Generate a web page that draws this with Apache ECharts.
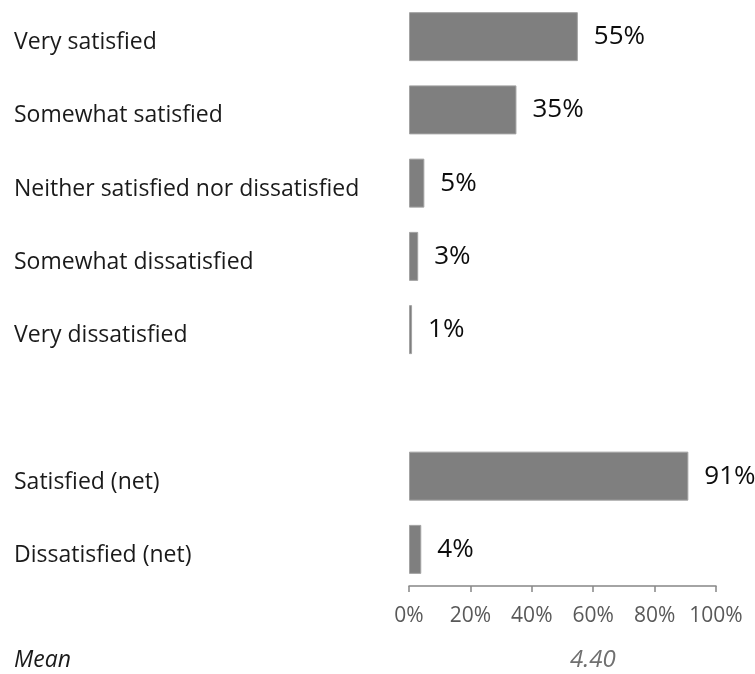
<!DOCTYPE html>
<html>
<head>
<meta charset="utf-8">
<script src="https://cdn.jsdelivr.net/npm/echarts@6/dist/echarts.min.js"></script>
<style>
  html, body { margin: 0; padding: 0; background: #ffffff; }
  #chart { width: 755px; height: 674px; }
</style>
</head>
<body>
<div id="chart"></div>
<script>
// Satisfaction ratings (share of respondents, %)
const categories = [
  'Very satisfied',
  'Somewhat satisfied',
  'Neither satisfied nor dissatisfied',
  'Somewhat dissatisfied',
  'Very dissatisfied',
  '',
  'Satisfied (net)',
  'Dissatisfied (net)'
];
const shares = [55, 35, 5, 3, 1, '-', 91, 4];
const axisTicks = [0, 20, 40, 60, 80, 100];
const meanLabel = 'Mean';
const meanScore = 4.40;

const chart = echarts.init(document.getElementById('chart'));

chart.setOption({
  animation: false,
  backgroundColor: '#ffffff',
  grid: { left: 409, right: 39, top: -4, bottom: 88, containLabel: false },
  xAxis: {
    type: 'value',
    min: axisTicks[0],
    max: axisTicks[axisTicks.length - 1],
    interval: axisTicks[1] - axisTicks[0],
    axisLine: { show: true, lineStyle: { color: '#878787', width: 1.5 } },
    axisTick: { show: true, length: 6, lineStyle: { color: '#878787', width: 1.5 } },
    splitLine: { show: false },
    axisLabel: {
      margin: 20,
      color: '#595959',
      fontFamily: 'Open Sans',
      fontSize: 21,
      formatter: v => v + '%'
    }
  },
  yAxis: {
    type: 'category',
    data: categories,
    inverse: true,
    axisLine: { show: false },
    axisTick: { show: false },
    splitLine: { show: false },
    axisLabel: {
      align: 'left',
      verticalAlign: 'top',
      lineHeight: 12,
      margin: 395,
      color: '#1a1a1a',
      fontFamily: 'Open Sans',
      fontSize: 23
    }
  },
  series: [{
    type: 'bar',
    data: shares,
    barWidth: 49,
    itemStyle: { color: '#7f7f7f', borderColor: '#a3a3a3', borderWidth: 1 },
    label: {
      show: true,
      position: 'right',
      distance: 16,
      color: '#0d0d0d',
      fontFamily: 'Open Sans',
      fontSize: 26,
      formatter: p => p.value + '%'
    }
  }],
  graphic: [
    {
      type: 'text',
      left: 14,
      top: 649,
      style: {
        text: meanLabel,
        fill: '#1a1a1a',
        font: 'italic 23px "Open Sans"'
      }
    },
    {
      type: 'text',
      left: 570,
      top: 648,
      style: {
        text: meanScore.toFixed(2),
        fill: '#707070',
        font: 'italic 24px "Open Sans"'
      }
    }
  ]
});
</script>
</body>
</html>
